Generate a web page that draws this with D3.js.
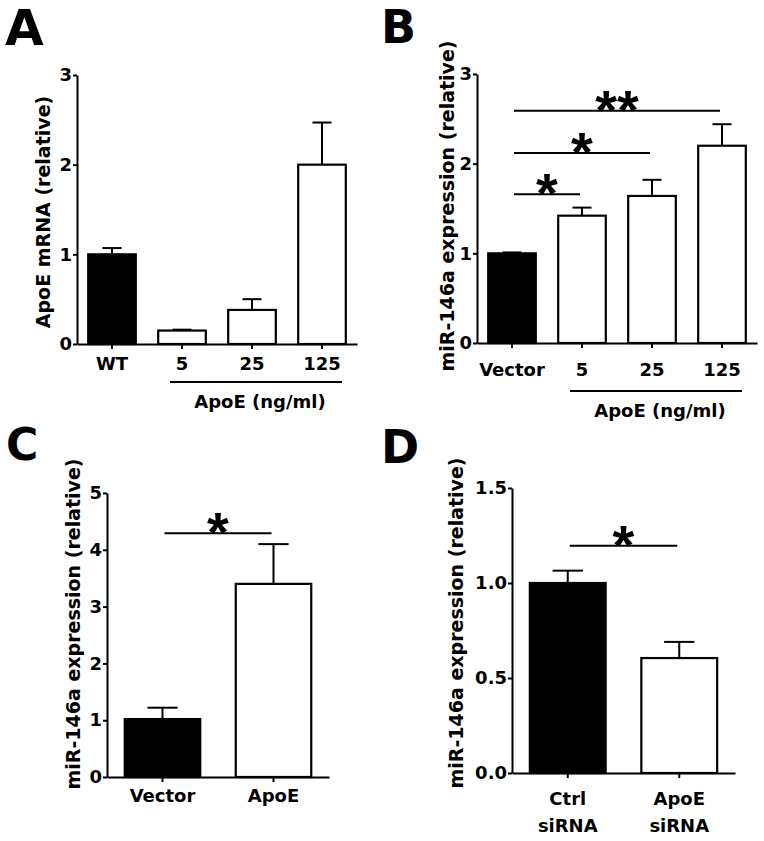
<!DOCTYPE html>
<html><head><meta charset="utf-8">
<script src="https://cdn.jsdelivr.net/npm/d3@7"></script>
<style>
html,body{margin:0;padding:0;background:#fff;}
text{font-family:"DejaVu Sans",sans-serif;font-weight:bold;fill:#000;}
text.star{font-family:"Liberation Sans",Arial,sans-serif;}
</style></head>
<body>
<svg id="fig" width="764" height="841"></svg>
<script>
// ---------- DATA ----------
const aCategories = ["WT", "5", "25", "125"];
const aMeans = [1.0, 0.15, 0.38, 2.0];
const aSEM = [0.07, 0.01, 0.12, 0.47];
const aYTicks = [0, 1, 2, 3];

const bCategories = ["Vector", "5", "25", "125"];
const bMeans = [1.0, 1.42, 1.64, 2.2];
const bSEM = [0.01, 0.09, 0.18, 0.24];
const bYTicks = [0, 1, 2, 3];
const bSig = [
  {from: 0, to: 1, y: 1.66, label: "*"},
  {from: 0, to: 2, y: 2.12, label: "*"},
  {from: 0, to: 3, y: 2.59, label: "**"}
];

const cCategories = ["Vector", "ApoE"];
const cMeans = [1.02, 3.4];
const cSEM = [0.2, 0.7];
const cYTicks = [0, 1, 2, 3, 4, 5];
const cSig = [{from: 0, to: 1, y: 4.29, label: "*"}];

const dCategories = [["Ctrl", "siRNA"], ["ApoE", "siRNA"]];
const dMeans = [1.0, 0.605];
const dSEM = [0.065, 0.085];
const dYTicks = [0, 0.5, 1.0, 1.5];
const dSig = [{from: 0, to: 1, y: 1.196, label: "*"}];

// ---------- DRAW ----------
const svg = d3.select("#fig");

function panel(o) {
  const g = svg.append("g");
  const x = d3.scaleBand().domain(d3.range(o.cats.length)).range(o.xr).paddingInner(0.32).paddingOuter(0.16);
  const y = d3.scaleLinear().domain(o.ydom).range(o.yr);
  const bw = x.bandwidth();
  const cx = i => x(i) + bw / 2;

  // error bars (upper only)
  o.means.forEach((m, i) => {
    const top = y(m + o.sem[i]);
    g.append("line").attr("x1", cx(i)).attr("x2", cx(i)).attr("y1", y(m)).attr("y2", top)
      .attr("stroke", "#000").attr("stroke-width", 2);
    g.append("line").attr("x1", cx(i) - bw * 0.2).attr("x2", cx(i) + bw * 0.2).attr("y1", top).attr("y2", top)
      .attr("stroke", "#000").attr("stroke-width", 2);
  });
  // bars
  g.selectAll("rect.bar").data(o.means).join("rect").attr("class", "bar")
    .attr("x", (d, i) => x(i)).attr("width", bw)
    .attr("y", d => y(d)).attr("height", d => y(0) - y(d))
    .attr("fill", (d, i) => i === 0 ? "#000" : "#fff")
    .attr("stroke", "#000").attr("stroke-width", 2.2);

  // y axis
  const ya = g.append("g").attr("transform", `translate(${o.xr[0]},0)`)
    .call(d3.axisLeft(y).tickValues(o.yticks).tickSize(4).tickSizeOuter(0).tickPadding(1).tickFormat(o.fmt || d3.format("d")));
  ya.select(".domain").attr("stroke-width", 2);
  ya.selectAll(".tick line").attr("stroke-width", 2);
  ya.selectAll("text").style("font-size", "18px").style("font-family", "DejaVu Sans");

  // x axis
  const xa = g.append("g").attr("transform", `translate(0,${o.yr[0]})`)
    .call(d3.axisBottom(x).tickSize(5).tickSizeOuter(0).tickFormat(""));
  xa.select(".domain").attr("stroke-width", 2.2);
  xa.selectAll(".tick line").attr("stroke-width", 2);

  // x labels
  o.cats.forEach((c, i) => {
    const lines = Array.isArray(c) ? c : [c];
    lines.forEach((t, j) => {
      g.append("text").attr("x", cx(i)).attr("y", o.labelY + j * 27).attr("text-anchor", "middle")
        .style("font-size", "18px").text(t);
    });
  });

  // y title
  g.append("text").attr("transform", `translate(${o.title[1]},${o.title[2]}) rotate(-90)`)
    .attr("text-anchor", "middle").attr("dy", "0.35em").style("font-size", "19px").text(o.title[0]);

  // group underline
  if (o.group) {
    const x1 = cx(o.group.from) - 12, x2 = cx(o.group.to) + 20;
    g.append("line").attr("x1", x1).attr("x2", x2).attr("y1", o.group.y).attr("y2", o.group.y)
      .attr("stroke", "#000").attr("stroke-width", 2);
    g.append("text").attr("x", (x1 + x2) / 2 + 4).attr("y", o.group.y + 26).attr("text-anchor", "middle")
      .style("font-size", "18px").text(o.group.label);
  }

  // significance
  (o.sig || []).forEach(s => {
    const ly = y(s.y);
    const x1 = cx(s.from) + 2, x2 = cx(s.to) - 2;
    g.append("line").attr("x1", x1).attr("x2", x2).attr("y1", ly).attr("y2", ly)
      .attr("stroke", "#000").attr("stroke-width", 2);
    g.append("text").attr("class", "star").attr("x", (x1 + x2) / 2).attr("y", ly - 14 + 0.57 * 56)
      .attr("text-anchor", "middle").style("font-size", "56px").text(s.label);
  });

  // panel letter
  g.append("text").attr("x", o.letter[0]).attr("y", o.letter[1]).style("font-size", o.letter[3] + "px").text(o.letter[2]);
}

panel({cats: aCategories, means: aMeans, sem: aSEM, yticks: aYTicks, ydom: [0, 3],
  xr: [77, 357], yr: [344, 75], labelY: 370,
  title: ["ApoE mRNA (relative)", 43, 212], group: {from: 1, to: 3, y: 382, label: "ApoE (ng/ml)"},
  letter: [5, 45, "A", 50]});

panel({cats: bCategories, means: bMeans, sem: bSEM, yticks: bYTicks, ydom: [0, 3],
  xr: [477, 757], yr: [343, 74], labelY: 376,
  title: ["miR-146a expression (relative)", 447, 206], group: {from: 1, to: 3, y: 391, label: "ApoE (ng/ml)"},
  sig: bSig, letter: [381, 43, "B", 46]});

panel({cats: cCategories, means: cMeans, sem: cSEM, yticks: cYTicks, ydom: [0, 5],
  xr: [107, 329], yr: [777, 493], labelY: 802,
  title: ["miR-146a expression (relative)", 73, 624], sig: cSig, letter: [6, 460, "C", 44]});

panel({cats: dCategories, means: dMeans, sem: dSEM, yticks: dYTicks, ydom: [0, 1.5],
  xr: [512, 735], yr: [773, 488], labelY: 805, fmt: d3.format(".1f"),
  title: ["miR-146a expression (relative)", 456, 623], sig: dSig, letter: [381, 463, "D", 46]});
</script>
</body></html>
